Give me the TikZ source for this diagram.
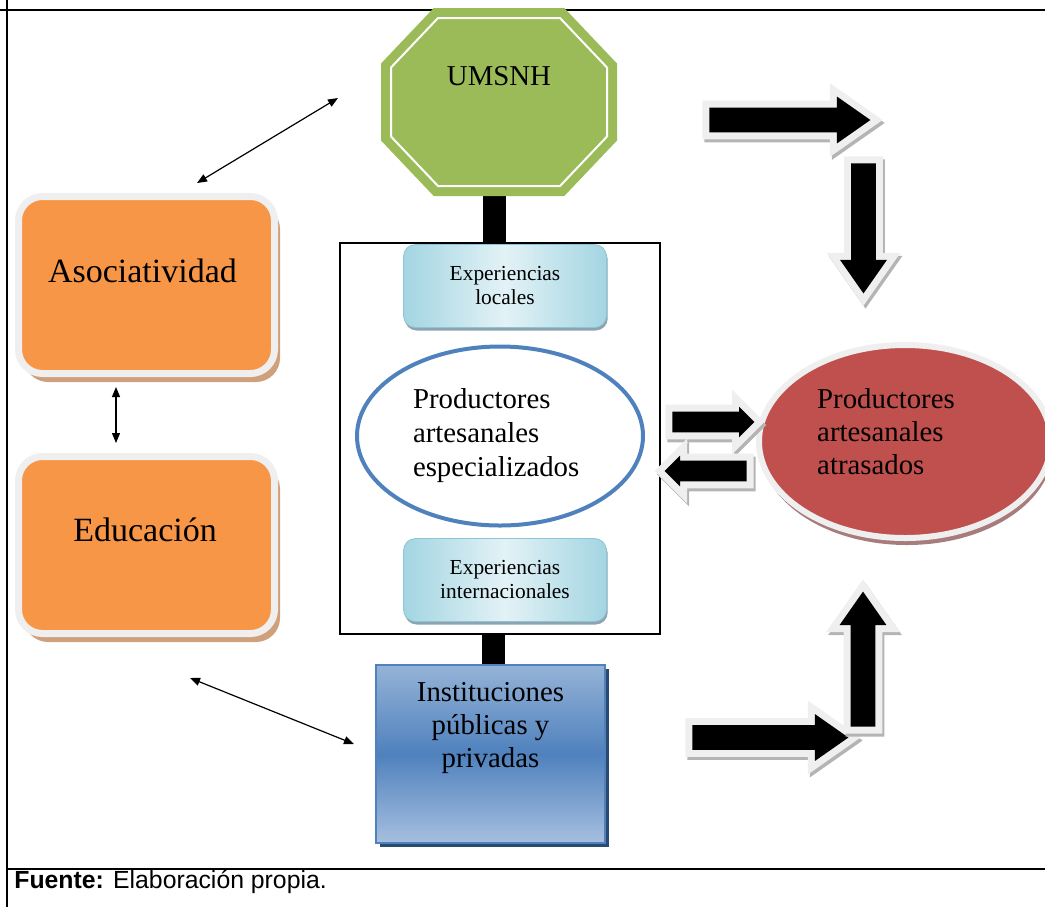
\documentclass[tikz,border=0pt]{standalone}
\usepackage{fontspec}
\setmainfont{Liberation Serif}
\newfontfamily\arialfont{Liberation Sans}
\usepackage{tikz}
\usetikzlibrary{shapes.geometric, shapes.arrows, arrows.meta, shadows, backgrounds}

\definecolor{naranja}{HTML}{F79646}
\definecolor{naranjasombra}{HTML}{CFA07C}
\definecolor{aro}{HTML}{EFEFEF}
\definecolor{verde}{HTML}{9BBB59}
\definecolor{azul}{HTML}{4F81BD}
\definecolor{azulclaro}{HTML}{95B3D7}
\definecolor{azulbajo}{HTML}{A7BFDF}
\definecolor{azulsombra}{HTML}{2A4A72}
\definecolor{rojo}{HTML}{C0504D}
\definecolor{rojosombra}{HTML}{A87C7C}
\definecolor{cianclaro}{HTML}{E3F2F6}
\definecolor{cianmedio}{HTML}{A3D5E2}
\definecolor{cianborde}{HTML}{8CC6D6}
\definecolor{ciansombra}{HTML}{8DA3B0}
\definecolor{flechasombra}{HTML}{B4B4B4}

\begin{document}
\begin{tikzpicture}[x=0.5pt, y=-0.5pt,
    marco/.style={line width=1pt},
    texto/.style={inner sep=0pt, font=\fontsize{14.4}{16.5}\selectfont},
    octagon/.style={fill=verde, draw=verde, line width=4.5pt, double=white, double distance=1pt},
    framebox/.style={rectangle, draw, line width=0.7pt, minimum width=160pt, minimum height=195.5pt},
    expbox/.style={rectangle, rounded corners=6pt, draw=cianborde, left color=cianmedio, right color=cianmedio, middle color=cianclaro, minimum width=101.5pt, minimum height=41.5pt, align=center, inner sep=0pt, font=\fontsize{10.7}{12}\selectfont, drop shadow={shadow xshift=0.6pt, shadow yshift=-1.5pt, fill=ciansombra, opacity=1}},
    elipseazul/.style={ellipse, draw=azul, line width=2pt, fill=white, minimum width=143pt, minimum height=89.5pt, text width=87pt, align=left, inner sep=0pt, font=\fontsize{14.4}{17}\selectfont},
    elipseroja/.style={ellipse, fill=rojo, draw=aro, line width=3pt, minimum width=146pt, minimum height=96.5pt, drop shadow={shadow xshift=1pt, shadow yshift=-3.5pt, fill=rojosombra, opacity=1}},
    orangebox/.style={rectangle, rounded corners=12pt, fill=naranja, draw=aro, line width=3.5pt, minimum width=128pt, minimum height=88.5pt, drop shadow={shadow xshift=2.75pt, shadow yshift=-4.25pt, fill=naranjasombra, opacity=1}},
    instbox/.style={rectangle, draw=azul, line width=0.8pt, top color=azulclaro, bottom color=azulbajo, middle color=azul, minimum width=114.5pt, minimum height=89pt, drop shadow={shadow xshift=1.8pt, shadow yshift=-1.8pt, fill=azulsombra, opacity=1}},
    bigarrow/.style={single arrow, fill=black, inner sep=0pt, inner ysep=6pt, single arrow head extend=5.5pt, single arrow tip angle=70, single arrow head indent=0pt,
        drop shadow={shadow xshift=1pt, shadow yshift=-1.5pt, fill=flechasombra, draw=flechasombra, line width=7pt, opacity=1},
        preaction={draw=aro, line width=7pt}},
    smallarrow/.style={bigarrow, inner ysep=5pt, single arrow head extend=2.5pt, single arrow tip angle=90, minimum height=41pt},
    stem/.style={line width=11.5pt},
    thinarrow/.style={<->, >={Triangle[length=5pt,width=4pt]}, line width=0.6pt}]

    \useasboundingbox (0,0) rectangle (1045,907);
    \draw[marco] (0,10) -- (1045,10);
    \draw[marco] (7,0) -- (7,907);
    \draw[marco] (7,869) -- (1045,869);
    \node[anchor=base west, inner sep=0pt, font=\arialfont\fontsize{12.4}{14}\selectfont] (fuente) at (14,888) {\textbf{Fuente:} Elaboración propia.};

    % octagono de la UMSNH
    \node[minimum width=108pt, minimum height=84pt, inner sep=0pt] (umsnh) at (499,102) {};
    \draw[octagon, shift={(umsnh.center)}] (-61,-84) -- (61,-84) -- (108,-34.5) -- (108,34.5) -- (61,84) -- (-61,84) -- (-108,34.5) -- (-108,-34.5) -- cycle;
    \node[texto] (umsnhtxt) at ([yshift=12.75pt]umsnh.center) {UMSNH};

    \node[framebox] (centro) at (500,438.5) {};
    \node[expbox] (locales) at (505,286) {Experiencias\\locales};
    \node[expbox] (internac) at (505,580) {Experiencias\\internacionales};
    \node[elipseazul] (especial) at (500,436) {Productores\\artesanales\\especializados};
    \node[instbox] (inst) at (490.5,754) {};
    \node[texto, align=center] (insttxt) at ([yshift=13pt]inst.center) {Instituciones\\públicas y\\privadas};

    \node[orangebox] (asoc) at (146.5,285) {};
    \node[texto, font=\fontsize{17}{20}\selectfont] (asoctxt) at ([xshift=-2pt,yshift=7.3pt]asoc.center) {Asociatividad};
    \node[orangebox] (educ) at (146.5,545) {};
    \node[texto, font=\fontsize{17}{20}\selectfont] (eductxt) at ([xshift=-0.7pt,yshift=7.5pt]educ.center) {Educación};

    \node[elipseroja] (atrasados) at (905,441.5) {};
    \node[texto, align=left] (atrasadostxt) at ([xshift=-9.5pt,yshift=5pt]atrasados.center) {Productores\\artesanales\\atrasados};

    \node[bigarrow, minimum height=80.5pt, anchor=tail] (f1) at (709,120) {};
    \node[bigarrow, minimum height=65pt, rotate=-90, anchor=tail] (f2) at (863.5,163) {};
    \node[bigarrow, minimum height=78pt, anchor=tail] (f3) at (692,737.5) {};
    \node[bigarrow, minimum height=67.5pt, rotate=90, anchor=tail] (f4) at (863,727) {};
    \node[smallarrow, anchor=tail] (f5) at (672,422) {};
    \node[smallarrow, rotate=180, anchor=tail] (f6) at (747,471) {};

    \coordinate (c1) at (197,183);
    \coordinate (c2) at (338,98);
    \coordinate (c3) at (190,678);
    \coordinate (c4) at (354,744);
    \draw[thinarrow] (c1) -- (c2);
    \draw[thinarrow] ([xshift=-15.25pt,yshift=-5pt]asoc.south) -- ([xshift=-15.25pt,yshift=5pt]educ.north);
    \draw[thinarrow] (c3) -- (c4);

    \coordinate (s1) at ([xshift=-2.5pt,yshift=5pt]umsnh.south);
    \coordinate (s2) at ([xshift=-3.25pt]centro.south);
    \begin{scope}[on background layer]
        \draw[stem] (s1) -- (s1 |- centro.north);
        \draw[stem] (s2) -- (s2 |- inst.north);
    \end{scope}
\end{tikzpicture}
\end{document}
